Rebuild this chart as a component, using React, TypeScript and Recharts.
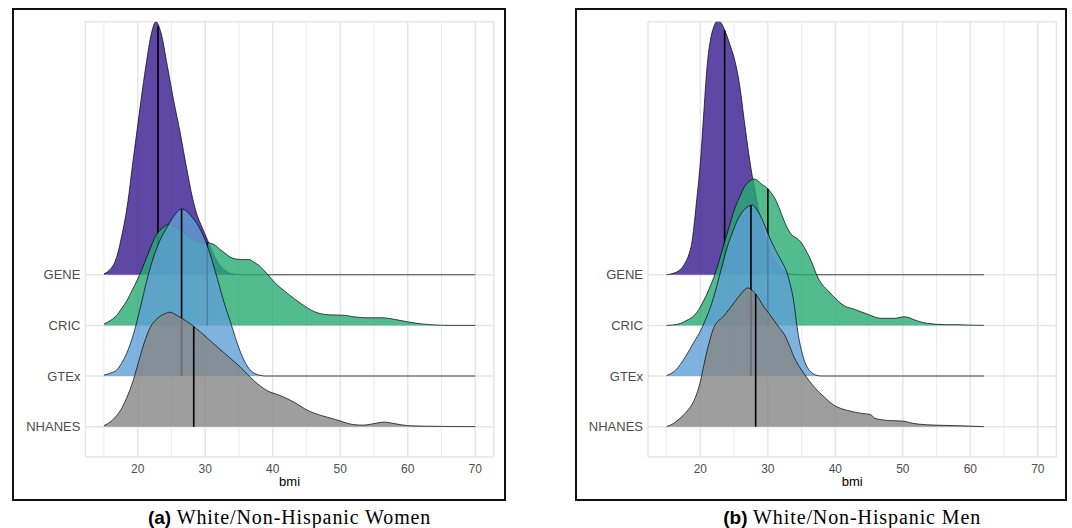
import React from "react";
import {
  ComposedChart,
  Area,
  Line,
  XAxis,
  YAxis,
  CartesianGrid,
  ReferenceLine,
} from "recharts";

type Pt = [number, number];

// ridge rows, top to bottom
const groups = ["GENE", "CRIC", "GTEx", "NHANES"];
const fills = ["#36198f", "#27ab73", "#5f9fd6", "#868686"];
const xTicks = [20, 30, 40, 50, 60, 70];
const minorTicks = [15, 25, 35, 45, 55, 65];

// density curves (bmi, height in row units)
const geneWomen: Pt[] = [
  [15, 0.02], [16, 0.12], [16.6, 0.25], [17.1, 0.45], [17.6, 0.75], [18.1, 1.08],
  [18.55, 1.45], [19.2, 2.14], [19.85, 2.8], [20.5, 3.46], [21.2, 4.12], [22.05, 4.78],
  [22.7, 5.0], [23.45, 4.78], [24.4, 4.12], [25.3, 3.46], [26.3, 2.8], [27.2, 2.14],
  [28.15, 1.5], [28.8, 1.18], [29.5, 0.95], [30.3, 0.7], [31.5, 0.33], [32.5, 0.14],
  [33.5, 0.04], [34.5, 0.01], [36, 0], [70, 0],
];
const cricWomen: Pt[] = [
  [15, 0.03], [16, 0.1], [16.9, 0.2], [17.6, 0.33], [18.4, 0.49], [19.2, 0.7],
  [19.9, 0.89], [20.6, 1.1], [21.35, 1.35], [22, 1.57], [22.6, 1.75], [23.3, 1.88],
  [23.8, 1.94], [24.6, 2.0], [25.4, 1.96], [26.3, 1.9], [27.5, 1.76], [28.8, 1.66],
  [29.6, 1.64], [30.5, 1.63], [31.3, 1.6], [32.2, 1.5], [32.8, 1.44], [33.7, 1.35],
  [34.6, 1.31], [35.8, 1.3], [36.5, 1.3], [37.2, 1.25], [38, 1.18], [38.7, 1.09],
  [40.2, 0.86], [42.2, 0.63], [44.2, 0.43], [46.2, 0.27], [48.2, 0.21], [50.6, 0.2],
  [52, 0.17], [54, 0.15], [56.3, 0.15], [58, 0.12], [60, 0.07], [62, 0.03],
  [64, 0.01], [66, 0], [70, 0],
];
const gtexWomen: Pt[] = [
  [15, 0.02], [16, 0.06], [16.9, 0.12], [17.6, 0.25], [18.4, 0.46], [19.4, 0.84],
  [20.4, 1.36], [21.35, 1.89], [22.35, 2.35], [23.3, 2.68], [24.3, 2.93], [25.3, 3.15],
  [26.55, 3.3], [27.3, 3.25], [28.05, 3.14], [29.05, 2.95], [30.3, 2.58], [31.5, 2.06],
  [32.8, 1.45], [33.9, 1.0], [35, 0.55], [36.2, 0.2], [37.5, 0.04], [39, 0], [70, 0],
];
const nhanesWomen: Pt[] = [
  [15, 0.02], [16, 0.1], [16.9, 0.22], [17.7, 0.38], [18.4, 0.58], [19.2, 0.86],
  [19.9, 1.17], [20.9, 1.63], [21.85, 1.96], [22.85, 2.13], [24.0, 2.23], [24.8, 2.26],
  [25.5, 2.22], [26.3, 2.16], [27.8, 2.03], [29.3, 1.87], [31.3, 1.63], [33.3, 1.4],
  [35.25, 1.17], [37.2, 0.91], [39.2, 0.71], [41.2, 0.61], [43.2, 0.48], [45.2, 0.32],
  [47.2, 0.22], [49.1, 0.15], [50.5, 0.09], [52, 0.04], [53.5, 0.03], [55, 0.06],
  [56.5, 0.09], [58, 0.06], [60, 0.02], [62, 0.01], [65, 0.005], [70, 0],
];

const geneMen: Pt[] = [
  [15, 0], [16, 0.03], [17, 0.1], [17.6, 0.2], [18.3, 0.4], [18.7, 0.6], [19.05, 0.95],
  [19.4, 1.4], [19.75, 1.85], [20.05, 2.3], [20.3, 2.77], [20.55, 3.27], [20.8, 3.77],
  [21.1, 4.25], [21.5, 4.64], [22, 4.9], [22.6, 5.02], [23.2, 4.95], [23.8, 4.77],
  [24.5, 4.5], [25.1, 4.24], [25.8, 3.77], [26.45, 3.11], [27.05, 2.51], [27.66, 1.98],
  [28.2, 1.6], [28.6, 1.31], [29.2, 0.95], [29.8, 0.65], [30.6, 0.4], [31.6, 0.18],
  [32.5, 0.07], [33.6, 0.01], [35, 0], [62, 0],
];
const cricMen: Pt[] = [
  [15, 0], [16, 0.01], [17.1, 0.04], [18, 0.1], [19.05, 0.19], [19.8, 0.32], [20.5, 0.49],
  [21.3, 0.72], [22, 0.95], [22.8, 1.28], [23.5, 1.61], [24.3, 1.96], [25, 2.27],
  [25.8, 2.53], [26.5, 2.73], [27.3, 2.85], [28, 2.89], [28.5, 2.86], [29, 2.8],
  [30, 2.7], [30.6, 2.6], [31.2, 2.47], [31.8, 2.28], [32.4, 2.07], [33.4, 1.81],
  [34.4, 1.71], [35, 1.63], [35.4, 1.54], [36.4, 1.28], [37.4, 0.95], [38.1, 0.8],
  [38.9, 0.69], [40.35, 0.49], [41.3, 0.39], [42.8, 0.32], [44.8, 0.22], [46.8, 0.14],
  [48.8, 0.14], [50.1, 0.17], [51, 0.15], [51.7, 0.11], [53.7, 0.04], [56.2, 0.015],
  [58, 0.015], [60, 0.005], [62, 0],
];
const gtexMen: Pt[] = [
  [15, 0.01], [16.3, 0.11], [17.8, 0.38], [19.05, 0.67], [20.05, 0.9], [20.8, 1.12],
  [21.5, 1.36], [22.2, 1.66], [22.8, 1.96], [23.4, 2.26], [24, 2.55], [24.8, 2.85],
  [25.5, 3.08], [26.1, 3.22], [26.7, 3.31], [27.4, 3.37], [27.7, 3.38], [28.3, 3.3],
  [29, 3.14], [29.7, 2.92], [30.45, 2.68], [31.1, 2.5], [31.7, 2.35], [32.2, 2.23],
  [32.7, 2.09], [33.1, 1.92], [33.4, 1.76], [33.7, 1.58], [34.0, 1.32], [34.2, 1.1],
  [34.65, 0.71], [35, 0.5], [35.4, 0.31], [35.9, 0.16], [36.4, 0.08], [37.1, 0.02],
  [37.9, 0], [62, 0],
];
const nhanesMen: Pt[] = [
  [15, 0], [16, 0.06], [17.1, 0.18], [18, 0.3], [19.05, 0.51], [19.6, 0.7], [20.05, 0.91],
  [20.5, 1.2], [21, 1.5], [21.5, 1.75], [22, 1.96], [22.6, 2.08], [23.3, 2.16],
  [24.5, 2.36], [25.3, 2.5], [26, 2.62], [27, 2.74], [27.6, 2.7], [28.2, 2.62],
  [28.8, 2.5], [29.45, 2.36], [30.2, 2.23], [30.9, 2.1], [31.6, 1.97], [32.4, 1.83],
  [33.2, 1.6], [33.9, 1.37], [34.6, 1.2], [35.4, 1.04], [36.9, 0.78], [38.4, 0.58],
  [39.85, 0.42], [40.8, 0.36], [41.8, 0.32], [43.1, 0.28], [44, 0.26], [45.2, 0.24],
  [45.8, 0.17], [46.7, 0.14], [48, 0.12], [50, 0.11], [51, 0.08], [52.3, 0.05],
  [54.8, 0.03], [57.8, 0.02], [60, 0.01], [62, 0],
];

// medians (quantile lines), same order as groups
const mediansWomen = [23.0, 30.3, 26.5, 28.3];
const mediansMen = [23.6, 30.0, 27.5, 28.2];

const curvesWomen = [geneWomen, cricWomen, gtexWomen, nhanesWomen];
const curvesMen = [geneMen, cricMen, gtexMen, nhanesMen];

function heightAt(curve: Pt[], x: number) {
  for (let i = 1; i < curve.length; i++) {
    const [x0, y0] = curve[i - 1];
    const [x1, y1] = curve[i];
    if (x >= x0 && x <= x1) return y0 + ((y1 - y0) * (x - x0)) / (x1 - x0);
  }
  return 0;
}

const sans = "'Liberation Sans', Arial, Helvetica, sans-serif";

interface PanelProps {
  curves: Pt[][];
  medians: number[];
  left: number;
  width: number;
  marginLeft: number;
  marginRight: number;
}

function RidgePanel({ curves, medians, left, width, marginLeft, marginRight }: PanelProps) {
  const n = groups.length;
  const rowLabels = [...groups].reverse();
  return (
    <div style={{ position: "absolute", left, top: 0 }}>
      <ComposedChart
        width={width}
        height={528}
        margin={{ top: 21.7, right: marginRight, bottom: 51, left: marginLeft }}
        style={{ fontFamily: sans }}
      >
        <CartesianGrid stroke="#e6e6e6" strokeWidth={1.5} />
        {minorTicks.map((v) => (
          <ReferenceLine key={v} x={v} stroke="#e9e9e9" strokeWidth={0.9} zIndex={-90} />
        ))}
        <XAxis
          type="number"
          dataKey="bmi"
          domain={[12.25, 72.75]}
          allowDataOverflow
          ticks={xTicks}
          axisLine={false}
          tickLine={false}
          tickSize={5}
          tickMargin={2}
          height={20}
          tick={{ fill: "#4d4d4d", fontSize: 12 }}
          label={{ value: "bmi", position: "bottom", offset: 0, fill: "#000", fontSize: 13 }}
        />
        <YAxis
          type="number"
          domain={[-0.6, 8]}
          allowDataOverflow
          ticks={[0, 1, 2, 3]}
          tickFormatter={(v: number) => rowLabels[v]}
          axisLine={false}
          tickLine={false}
          tickSize={3}
          tickMargin={2}
          width={80}
          tick={{ fill: "#4d4d4d", fontSize: 13 }}
        />
        {groups.map((g, i) => {
          const row = n - 1 - i;
          const data = curves[i].map(([bmi, d]) => ({ bmi, v: row + d }));
          const m = medians[i];
          const medData = [
            { bmi: m, v: row },
            { bmi: m, v: row + heightAt(curves[i], m) },
          ];
          return (
            <React.Fragment key={g}>
              <Area
                data={data}
                dataKey="v"
                type="monotone"
                baseValue={row}
                fill={fills[i]}
                fillOpacity={0.8}
                stroke="#000"
                strokeWidth={0.7}
                dot={false}
                activeDot={false}
                isAnimationActive={false}
                zIndex={101 + i * 2}
              />
              <Line
                data={medData}
                dataKey="v"
                type="linear"
                stroke="#000"
                strokeWidth={1.6}
                dot={false}
                activeDot={false}
                isAnimationActive={false}
                zIndex={102 + i * 2}
              />
            </React.Fragment>
          );
        })}
      </ComposedChart>
    </div>
  );
}

function Caption({ tag, text, center }: { tag: string; text: string; center: number }) {
  return (
    <div
      style={{
        position: "absolute",
        left: center - 200,
        top: 506,
        width: 400,
        textAlign: "center",
        lineHeight: "22px",
        whiteSpace: "nowrap",
        color: "#000",
      }}
    >
      <span style={{ fontFamily: sans, fontWeight: 700, fontSize: 19 }}>{tag}</span>
      <span style={{ fontFamily: "'Liberation Serif', 'Times New Roman', serif", fontSize: 20, letterSpacing: 0.9 }}>
        {" " + text}
      </span>
    </div>
  );
}

function frame(left: number, width: number): React.CSSProperties {
  return {
    position: "absolute",
    left,
    top: 8,
    width,
    height: 493,
    border: "2px solid #111",
    boxSizing: "border-box",
  };
}

export default function App() {
  return (
    <div
      style={{
        position: "absolute",
        left: 0,
        top: 0,
        width: 1072,
        height: 528,
        background: "#fff",
        overflow: "hidden",
      }}
    >
      <div style={frame(12, 494)} />
      <div style={frame(575, 492)} />
      <RidgePanel
        curves={curvesWomen}
        medians={mediansWomen}
        left={0}
        width={540}
        marginLeft={5.4}
        marginRight={46.2}
      />
      <RidgePanel
        curves={curvesMen}
        medians={mediansMen}
        left={540}
        width={532}
        marginLeft={28}
        marginRight={15.6}
      />
      <Caption tag="(a)" text="White/Non-Hispanic Women" center={289.6} />
      <Caption tag="(b)" text="White/Non-Hispanic Men" center={852.2} />
    </div>
  );
}
